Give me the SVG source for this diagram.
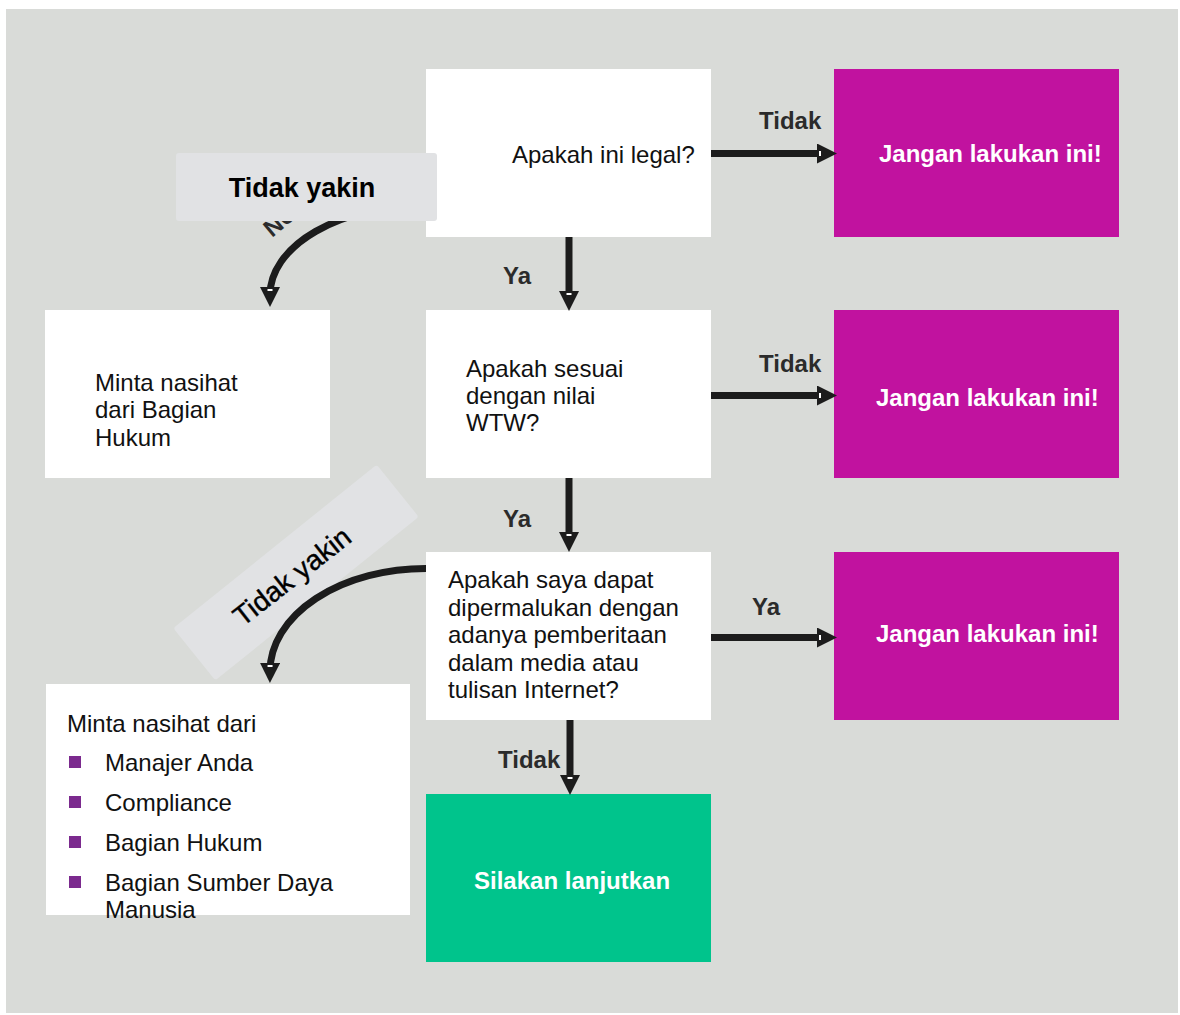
<svg xmlns="http://www.w3.org/2000/svg" width="1180" height="1015" viewBox="0 0 1180 1015">
<defs>
<style>
text{font-family:"Liberation Sans",Arial,sans-serif;}
.bg{fill:#d9dbd8;}
.box{fill:#ffffff;}
.stop{fill:#c1129f;}
.go{fill:#00c48c;}
.lbl{fill:#e1e2e4;}
.t{font-size:24px;fill:#111;}
.tw{font-size:24px;font-weight:bold;fill:#ffffff;}
.ed{font-size:24px;font-weight:bold;fill:#2b2b2b;}
.conn{fill:none;stroke:#1c1c1c;stroke-width:7;marker-end:url(#ah);}
.bul{fill:#7b2a8e;}
</style>
<marker id="ah" viewBox="0 0 20 20" refX="8" refY="10" markerWidth="20" markerHeight="20" markerUnits="userSpaceOnUse" orient="auto">
<path d="M0,0 L20,10 L0,20 Z" fill="#1c1c1c"/>
<rect x="2" y="7.5" width="2" height="5" fill="#ffffff"/>
</marker>
</defs>
<rect class="bg" x="6" y="9" width="1172" height="1004"/>

<g id="node-legal">
<rect class="box" x="426" y="69" width="285" height="168"/>
<text class="t" x="512" y="163">Apakah ini legal?</text>
</g>
<g id="node-stop1">
<rect class="stop" x="834" y="69" width="285" height="168"/>
<text class="tw" x="879" y="162">Jangan lakukan ini!</text>
</g>
<g id="node-nilai">
<rect class="box" x="426" y="310" width="285" height="168"/>
<text class="t" x="466" y="377">Apakah sesuai</text>
<text class="t" x="466" y="404">dengan nilai</text>
<text class="t" x="466" y="431">WTW?</text>
</g>
<g id="node-stop2">
<rect class="stop" x="834" y="310" width="285" height="168"/>
<text class="tw" x="876" y="406">Jangan lakukan ini!</text>
</g>
<g id="node-hukum">
<rect class="box" x="45" y="310" width="285" height="168"/>
<text class="t" x="95" y="391">Minta nasihat</text>
<text class="t" x="95" y="418">dari Bagian</text>
<text class="t" x="95" y="446">Hukum</text>
</g>
<g id="node-media">
<rect class="box" x="426" y="552" width="285" height="168"/>
<text class="t" x="448" y="588">Apakah saya dapat</text>
<text class="t" x="448" y="616">dipermalukan dengan</text>
<text class="t" x="448" y="643">adanya pemberitaan</text>
<text class="t" x="448" y="671">dalam media atau</text>
<text class="t" x="448" y="698">tulisan Internet?</text>
</g>
<g id="node-stop3">
<rect class="stop" x="834" y="552" width="285" height="168"/>
<text class="tw" x="876" y="642">Jangan lakukan ini!</text>
</g>
<g id="node-go">
<rect class="go" x="426" y="794" width="285" height="168"/>
<text class="tw" x="474" y="889">Silakan lanjutkan</text>
</g>
<g id="node-advice">
<rect class="box" x="46" y="684" width="364" height="231"/>
<text class="t" x="67" y="732">Minta nasihat dari</text>
<rect class="bul" x="69" y="756" width="12" height="12"/>
<text class="t" x="105" y="771">Manajer Anda</text>
<rect class="bul" x="69" y="796" width="12" height="12"/>
<text class="t" x="105" y="811">Compliance</text>
<rect class="bul" x="69" y="836" width="12" height="12"/>
<text class="t" x="105" y="851">Bagian Hukum</text>
<rect class="bul" x="69" y="876" width="12" height="12"/>
<text class="t" x="105" y="891">Bagian Sumber Daya</text>
<text class="t" x="105" y="918">Manusia</text>
</g>

<g id="connectors">
<path class="conn" d="M711,153.5 L825,153.5"/>
<path class="conn" d="M711,395.5 L825,395.5"/>
<path class="conn" d="M711,637.5 L825,637.5"/>
<path class="conn" d="M569,237 L569,299"/>
<path class="conn" d="M569,478 L569,540"/>
<path class="conn" d="M570,720 L570,783"/>
<text class="ed" x="759" y="129">Tidak</text>
<text class="ed" x="759" y="372">Tidak</text>
<text class="ed" x="752" y="615">Ya</text>
<text class="ed" x="503" y="284">Ya</text>
<text class="ed" x="503" y="527">Ya</text>
<text class="ed" x="498" y="768">Tidak</text>
<text class="ed" x="272" y="238" transform="rotate(-40 272 238)">No</text>
<path class="conn" d="M426,205 A156,90 0 0 0 270,295"/>
</g>

<g id="label-tidak-yakin-1">
<rect class="lbl" x="176" y="153" width="261" height="68" rx="3"/>
<text x="302" y="197" text-anchor="middle" style="font-size:27px;font-weight:bold;fill:#000">Tidak yakin</text>
</g>
<g id="label-tidak-yakin-2">
<rect class="lbl" x="165.5" y="539" width="261" height="67" rx="3" transform="rotate(-38.8 296 572.5)"/>
<text x="298" y="584" text-anchor="middle" transform="rotate(-38 298 584)" style="font-size:28px;fill:#000;stroke:#000;stroke-width:0.4">Tidak yakin</text>
</g>
<g id="connector-curve-2">
<path class="conn" d="M426,568.5 A156,103 0 0 0 270,671"/>
</g>
</svg>
